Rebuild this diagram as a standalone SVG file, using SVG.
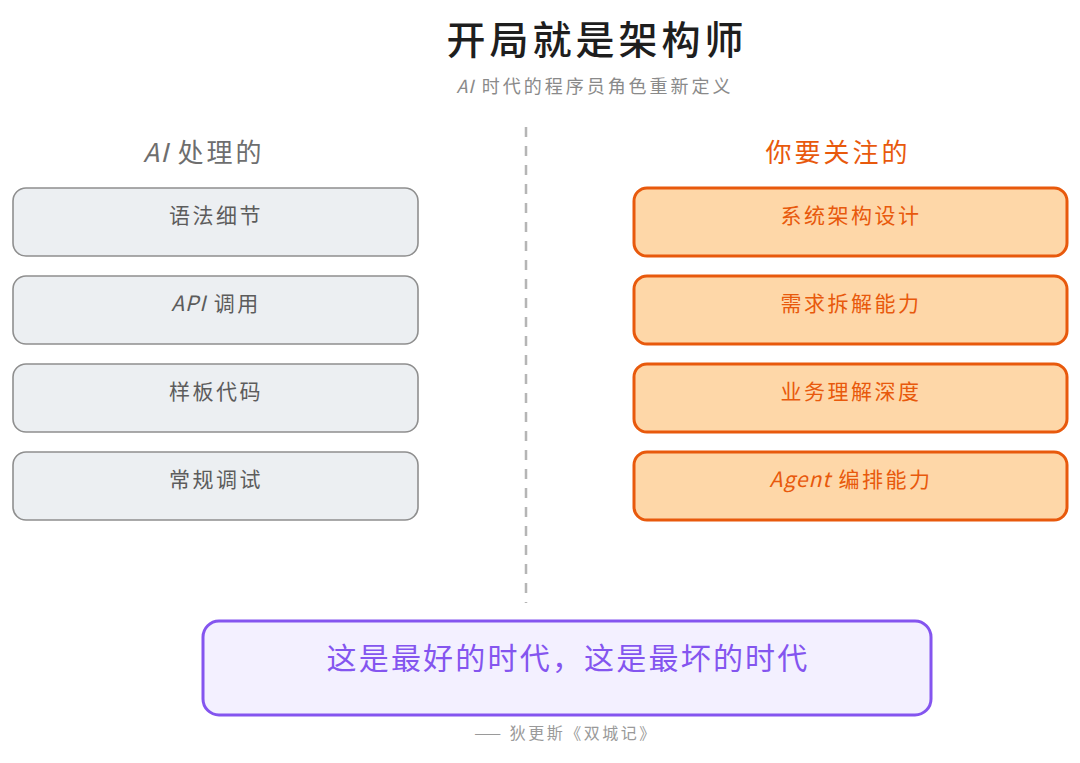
<svg xmlns="http://www.w3.org/2000/svg" width="1080" height="763" viewBox="0 0 1080 763">
<style>
text{font-family:"Noto Sans CJK SC","Noto Sans",sans-serif;text-anchor:middle}
.title{font-size:39px;font-weight:500;fill:#1e1e1e;letter-spacing:4px}
.sub{font-size:18px;fill:#8a8a8a;letter-spacing:3px}
.hl{font-size:26px;fill:#6e6e6e;letter-spacing:3px}
.hr{font-size:26px;fill:#e8590c;letter-spacing:3px}
.bl{fill:#eceff2;stroke:#8f8f8f;stroke-width:1.6}
.br{fill:#fed7a8;stroke:#e8590c;stroke-width:3}
.tl{font-size:21px;fill:#5c5c5c;letter-spacing:2.5px}
.tr{font-size:21px;fill:#e8590c;letter-spacing:2.5px}
.quote{font-size:30px;fill:#8455ef;letter-spacing:2.2px}
.attr{font-size:16px;fill:#9a9a9a;letter-spacing:2.5px}
.lat{letter-spacing:1px;font-style:italic}
</style>
<rect width="1080" height="763" fill="#ffffff"/>
<g id="title"><text class="title" x="597" y="54">开局就是架构师</text></g>
<g id="subtitle"><text class="sub" x="595" y="93"><tspan class="lat">AI</tspan> 时代的程序员角色重新定义</text></g>
<g id="connectors"><line x1="526" y1="127" x2="526" y2="603" stroke="#b5b5b5" stroke-width="2.5" stroke-dasharray="10 9"/></g>
<g id="left-header"><text class="hl" x="204" y="162"><tspan class="lat">AI</tspan> 处理的</text></g>
<g id="right-header"><text class="hr" x="838" y="162">你要关注的</text></g>
<g id="l1"><rect class="bl" x="13" y="188" width="405" height="68" rx="13"/><text class="tl" x="216" y="223">语法细节</text></g>
<g id="l2"><rect class="bl" x="13" y="276" width="405" height="68" rx="13"/><text class="tl" x="216" y="311"><tspan class="lat">API</tspan> 调用</text></g>
<g id="l3"><rect class="bl" x="13" y="364" width="405" height="68" rx="13"/><text class="tl" x="216" y="399">样板代码</text></g>
<g id="l4"><rect class="bl" x="13" y="452" width="405" height="68" rx="13"/><text class="tl" x="216" y="487">常规调试</text></g>
<g id="r1"><rect class="br" x="634" y="188" width="433" height="68" rx="13"/><text class="tr" x="851" y="223">系统架构设计</text></g>
<g id="r2"><rect class="br" x="634" y="276" width="433" height="68" rx="13"/><text class="tr" x="851" y="311">需求拆解能力</text></g>
<g id="r3"><rect class="br" x="634" y="364" width="433" height="68" rx="13"/><text class="tr" x="851" y="399">业务理解深度</text></g>
<g id="r4"><rect class="br" x="634" y="452" width="433" height="68" rx="13"/><text class="tr" x="851" y="487"><tspan class="lat">Agent</tspan> 编排能力</text></g>
<g id="quote"><rect x="203" y="621" width="728" height="94" rx="16" fill="#f3f0ff" stroke="#8455ef" stroke-width="3"/><text class="quote" x="568" y="669">这是最好的时代，这是最坏的时代</text></g>
<g id="attribution"><text class="attr" x="566" y="739">—— 狄更斯《双城记》</text></g>
</svg>
